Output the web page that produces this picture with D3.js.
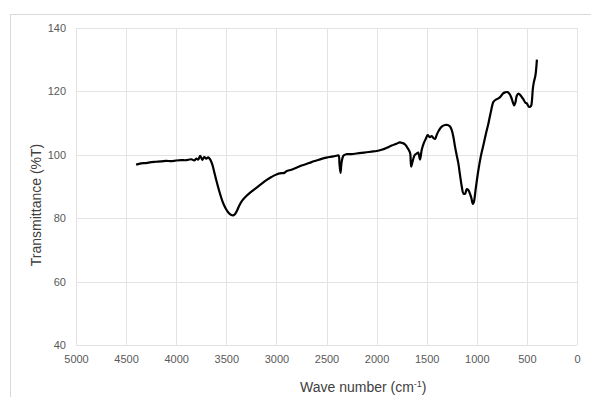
<!DOCTYPE html>
<html>
<head>
<meta charset="utf-8">
<script src="https://cdn.jsdelivr.net/npm/d3@7"></script>
<style>
  body { margin: 0; background: #fff; }
  #chart text { font-family: "Liberation Sans", Arial, sans-serif; }
</style>
</head>
<body>
<div id="chart"></div>
<script>
const wavenumber = [
  4400, 4350, 4300, 4250, 4200, 4150, 4100, 4050, 4000, 3950, 3900, 3850, 3820, 3800, 3780,
  3760, 3740, 3720, 3700, 3680, 3660, 3640, 3620, 3600, 3570, 3540, 3510, 3480, 3450, 3430,
  3410, 3390, 3370, 3340, 3300, 3250, 3200, 3150, 3100, 3050, 3000, 2950, 2920, 2900, 2850,
  2800, 2750, 2700, 2650, 2600, 2550, 2500, 2450, 2400, 2380, 2370, 2360, 2350, 2330, 2300,
  2250, 2200, 2150, 2100, 2050, 2000, 1950, 1900, 1850, 1800, 1770, 1740, 1720, 1700, 1680,
  1665, 1655, 1640, 1620, 1600, 1585, 1567, 1550, 1530, 1510, 1490, 1470, 1450, 1430, 1417,
  1400, 1380, 1350, 1317, 1290, 1267, 1250, 1234, 1217, 1200, 1184, 1167, 1150, 1134, 1117,
  1100, 1085, 1074, 1055, 1040, 1030, 1010, 984, 960, 934, 910, 884, 860, 834, 810,
  784, 760, 740, 717, 695, 674, 655, 640, 627, 615, 600, 584, 565, 551, 535,
  517, 500, 490, 477, 465, 457, 440, 430, 415, 405, 400
];
const transmittance = [
  96.9, 97.3, 97.4, 97.7, 97.8, 97.9, 98.1, 98.0, 98.2, 98.3, 98.3, 98.6, 98.2, 98.8, 98.5,
  99.7, 98.4, 99.3, 98.8, 99.2, 98.5, 97.0, 94.5, 92.0, 88.5, 85.5, 83.3, 81.8, 81.0, 80.9,
  81.4, 82.6, 84.0, 85.6, 87.0, 88.4, 89.6, 90.8, 92.0, 93.0, 93.8, 94.2, 94.3, 94.8, 95.3,
  95.9, 96.6, 97.1, 97.7, 98.2, 98.7, 99.1, 99.4, 99.7, 99.8, 97.0, 94.3, 97.5, 99.8, 100.2,
  100.2, 100.4, 100.6, 100.8, 101.0, 101.2, 101.6, 102.2, 102.9, 103.5, 103.9, 103.7, 103.4, 102.6, 101.6,
  100.5, 96.3, 98.0, 99.9, 100.4, 100.7, 98.5, 101.5, 103.6, 105.0, 106.2, 105.6, 105.9, 105.2, 105.0,
  106.3, 107.6, 108.9, 109.4, 109.4, 108.9, 107.8, 105.7, 102.5, 99.8, 97.3, 93.5, 90.0, 87.8, 87.7,
  89.2, 88.9, 88.2, 86.5, 84.5, 85.0, 89.5, 95.2, 99.5, 103.1, 106.5, 109.9, 113.5, 116.7, 117.4,
  117.8, 118.5, 119.3, 119.7, 119.8, 119.2, 118.0, 116.5, 115.6, 116.5, 118.7, 119.3, 118.8, 118.2, 117.5,
  116.5, 116.2, 115.6, 115.1, 115.2, 115.5, 121.0, 123.0, 125.0, 128.0, 130.0
];
const xTicks = [5000, 4500, 4000, 3500, 3000, 2500, 2000, 1500, 1000, 500, 0];
const yTicks = [40, 60, 80, 100, 120, 140];

const width = 591;
const height = 397;
const margin = { top: 28, right: 14, bottom: 52, left: 76 };
const plotW = width - margin.left - margin.right;
const plotH = height - margin.top - margin.bottom;

const svg = d3
  .select('#chart')
  .append('svg')
  .attr('width', width)
  .attr('height', height);

// outer chart frame
svg
  .append('rect')
  .attr('x', 10.5)
  .attr('y', 14.5)
  .attr('width', 590)
  .attr('height', 400)
  .attr('fill', 'none')
  .attr('stroke', '#d9d9d9');

const g = svg.append('g').attr('transform', `translate(${margin.left}, ${margin.top})`);

const xScale = d3.scaleLinear().domain([5000, 0]).range([0, plotW]);
const yScale = d3.scaleLinear().domain([40, 140]).range([plotH, 0]);

// gridlines
g.append('g')
  .selectAll('line')
  .data(xTicks)
  .enter()
  .append('line')
  .attr('x1', (d) => Math.round(xScale(d)) + 0.5)
  .attr('x2', (d) => Math.round(xScale(d)) + 0.5)
  .attr('y1', 0)
  .attr('y2', plotH)
  .attr('stroke', '#e3e3e3');

g.append('g')
  .selectAll('line')
  .data(yTicks)
  .enter()
  .append('line')
  .attr('x1', 0)
  .attr('x2', plotW)
  .attr('y1', (d) => Math.round(yScale(d)) + 0.5)
  .attr('y2', (d) => Math.round(yScale(d)) + 0.5)
  .attr('stroke', '#e3e3e3');

// axes (labels only)
const xAxis = d3.axisBottom(xScale).tickValues(xTicks).tickFormat(d3.format('d')).tickSize(0).tickPadding(10);
const yAxis = d3.axisLeft(yScale).tickValues(yTicks).tickFormat(d3.format('d')).tickSize(0).tickPadding(10);

const xg = g.append('g').attr('transform', `translate(0, ${plotH})`).call(xAxis);
const yg = g.append('g').call(yAxis);
[xg, yg].forEach((a) => {
  a.select('.domain').remove();
  a.selectAll('text').attr('fill', '#595959').style('font-size', '11px');
});

// spectrum
const line = d3
  .line()
  .x((d, i) => xScale(wavenumber[i]))
  .y((d) => yScale(d))
  .curve(d3.curveCatmullRom);

g.append('path')
  .datum(transmittance)
  .attr('fill', 'none')
  .attr('stroke', '#000')
  .attr('stroke-width', 2.2)
  .attr('stroke-linejoin', 'round')
  .attr('d', line);

// axis titles
const xt = svg
  .append('text')
  .attr('x', 300)
  .attr('y', 392)
  .attr('fill', '#404040')
  .style('font-size', '14px');
xt.append('tspan').text('Wave number  (cm');
xt.append('tspan').attr('dy', -5).style('font-size', '9px').text('-1');
xt.append('tspan').attr('dy', 5).text(')');

svg
  .append('text')
  .attr('transform', 'translate(41, 205) rotate(-90)')
  .attr('text-anchor', 'middle')
  .attr('fill', '#404040')
  .style('font-size', '14px')
  .text('Transmittance (%T)');
</script>
</body>
</html>
